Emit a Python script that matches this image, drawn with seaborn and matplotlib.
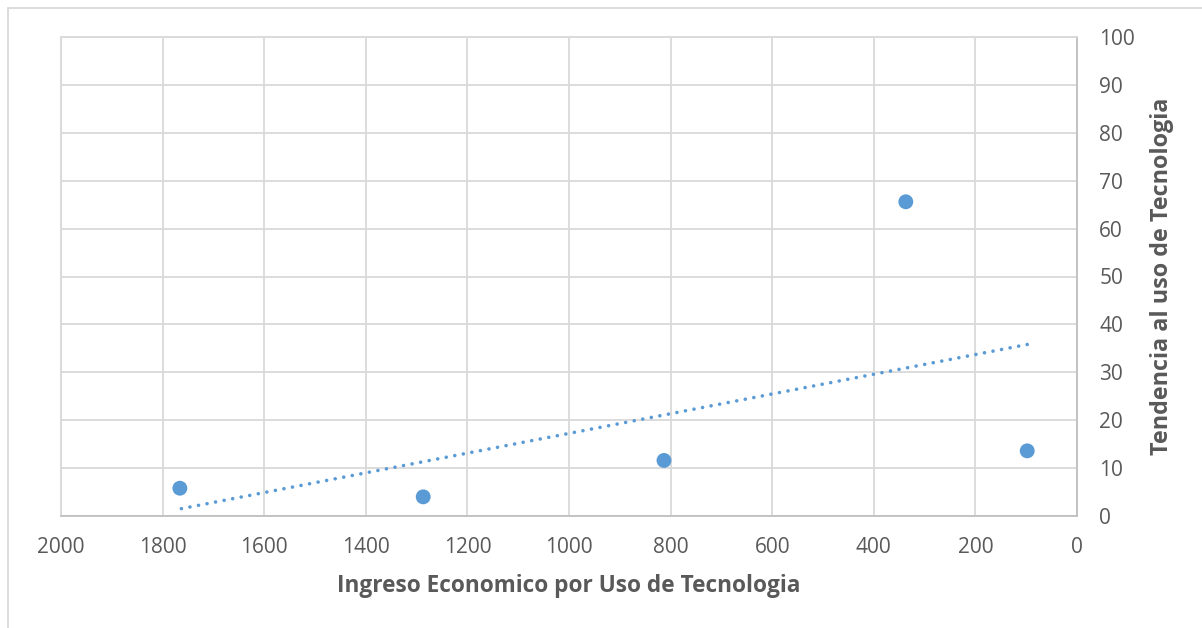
import numpy as np
import pandas as pd
import seaborn as sns
import matplotlib
matplotlib.use("Agg")
import matplotlib.pyplot as plt
from matplotlib.lines import Line2D

# Data
ingreso = [1766, 1287, 813, 337, 98]
tendencia = [5.8, 4.0, 11.6, 65.6, 13.6]
x_ticks = [2000, 1800, 1600, 1400, 1200, 1000, 800, 600, 400, 200, 0]
y_ticks = [0, 10, 20, 30, 40, 50, 60, 70, 80, 90, 100]
x_label = "Ingreso Economico por Uso de Tecnologia"
y_label = "Tendencia al uso de Tecnologia"

df = pd.DataFrame({"x": ingreso, "y": tendencia})

sns.set_theme(style="white")
plt.rcParams["font.family"] = ["Open Sans", "DejaVu Sans"]

W, H, DPI = 1202, 628, 100
fig = plt.figure(figsize=(W / DPI, H / DPI), dpi=DPI)
L, R, T, B = 61, 1077, 37, 516
ax = fig.add_axes([L / W, 1 - B / H, (R - L) / W, (B - T) / H])

blue = "#5B9BD5"
sns.regplot(data=df, x="x", y="y", ax=ax, ci=None, truncate=True,
            scatter_kws=dict(s=115, color=blue, alpha=1, edgecolor="none", zorder=3, clip_on=False),
            line_kws=dict(color=blue, linestyle=(0, (0.01, 2.4)), linewidth=2.6,
                          dash_capstyle="round", zorder=2))

ax.set_xlim(2000, 0)
ax.set_ylim(0, 100)
ax.set_xticks(x_ticks)
ax.set_yticks(y_ticks)
ax.yaxis.tick_right()
ax.yaxis.set_label_position("right")

grid_c = "#D9D9D9"
ax.grid(True, color=grid_c, linewidth=1.3)
ax.set_axisbelow(True)
for s in ["left", "top"]:
    ax.spines[s].set_color(grid_c)
    ax.spines[s].set_linewidth(1.3)
for s in ["right", "bottom"]:
    ax.spines[s].set_color("#BFBFBF")
    ax.spines[s].set_linewidth(1.3)

tick_c = "#595959"
ax.tick_params(axis="both", length=0, labelsize=15, colors=tick_c)
ax.tick_params(axis="x", pad=15)
ax.tick_params(axis="y", pad=16)

ax.set_xlabel(x_label, fontsize=16.3, fontweight="bold", color=tick_c, labelpad=12)
ax.set_ylabel(y_label, fontsize=16.8, fontweight="bold", color=tick_c, labelpad=11,
              rotation=90)

# outer chart frame (left and top edges visible)
fc = "#D9D9D9"
fig.add_artist(Line2D([7.5 / W, 7.5 / W], [0, 1 - 7.5 / H], transform=fig.transFigure,
                      color=fc, linewidth=1.3))
fig.add_artist(Line2D([7.5 / W, 1], [1 - 7.5 / H, 1 - 7.5 / H], transform=fig.transFigure,
                      color=fc, linewidth=1.3))

fig.savefig("out.png", dpi=DPI, facecolor="white")
